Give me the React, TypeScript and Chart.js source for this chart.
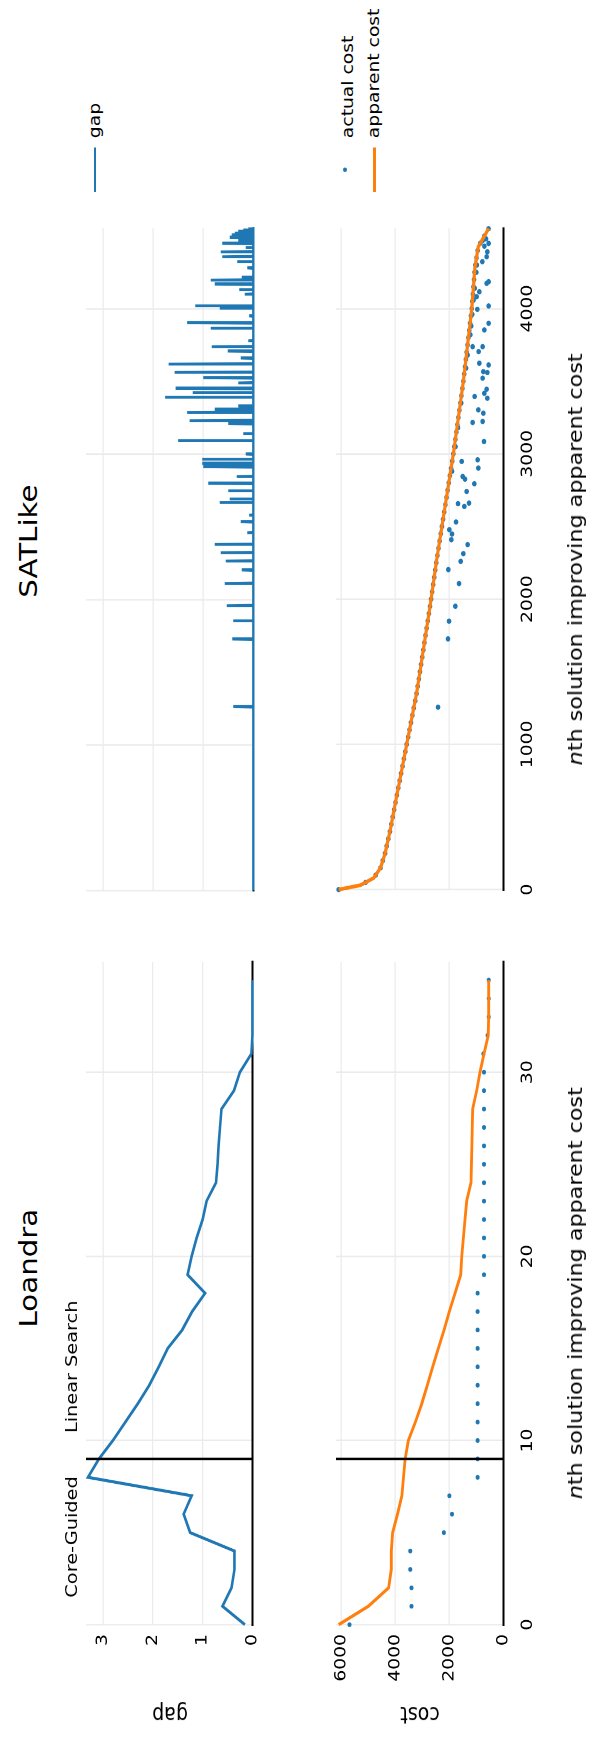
import React, { useEffect, useRef } from "react";
import { Chart, registerables } from "chart.js";

Chart.register(...registerables);

const FONT = "'DejaVu Sans', sans-serif";
const BLUE = "#1f77b4";
const ORANGE = "#ff7f0e";
const GRID = "#ebebeb";
const STRETCH = 1756 / 1500;

// ---------------- data ----------------
const loandraSolution = [0, 1, 2, 3, 4, 5, 6, 7, 8, 9, 10, 11, 12, 13, 14, 15, 16, 17, 18, 19, 20, 21, 22, 23, 24, 25, 26, 27, 28, 29, 30, 31, 32, 33, 34, 35];
const loandraGap = [0.15, 0.6, 0.42, 0.36, 0.36, 1.25, 1.38, 1.22, 3.3, 3.08, 2.8, 2.55, 2.3, 2.07, 1.88, 1.7, 1.41, 1.21, 0.95, 1.3, 1.22, 1.12, 1.0, 0.92, 0.73, 0.7, 0.68, 0.65, 0.62, 0.37, 0.25, 0.02, 0.0, 0.0, 0.0, 0.0];
const loandraApparentCost = [6100, 5000, 4250, 4150, 4150, 4100, 3920, 3760, 3700, 3640, 3519, 3259, 3022, 2815, 2615, 2407, 2197, 2000, 1789, 1579, 1540, 1480, 1420, 1357, 1197, 1180, 1165, 1150, 1134, 986, 863, 715, 560, 541, 541, 541];
const loandraActualCost = [5700, 3400, 3400, 3450, 3450, 2200, 1900, 2000, 950, 950, 950, 950, 950, 950, 950, 950, 950, 950, 950, 715, 715, 715, 715, 715, 715, 715, 715, 715, 715, 715, 715, 740, 580, 541, 541, 541];
const loandraSwitchAt = 9;

const satGapSpikes: [number, number][] = [
  [1263, 0.4], [1728, 0.42], [1852, 0.4], [1958, 0.53], [2111, 0.57], [2203, 0.23], [2265, 0.55], [2322, 0.65],
  [2379, 0.77], [2460, 0.12], [2535, 0.25], [2580, 0.08], [2666, 0.67], [2690, 0.47], [2746, 0.5], [2799, 0.9],
  [2845, 0.33], [2913, 1.0], [2936, 1.02], [2964, 1.02], [3000, 0.15], [3092, 1.5], [3140, 0.2], [3210, 0.5],
  [3230, 1.27], [3287, 1.32], [3307, 0.77], [3330, 0.3], [3390, 1.76], [3422, 1.21], [3452, 1.55], [3490, 0.3],
  [3525, 1.0], [3562, 1.57], [3619, 1.69], [3660, 0.25], [3708, 0.51], [3738, 0.83], [3780, 0.1], [3864, 0.85],
  [3903, 1.32], [3950, 0.08], [4002, 0.67], [4018, 1.16], [4100, 0.17], [4130, 0.28], [4169, 0.77], [4197, 0.85],
  [4215, 0.23], [4280, 0.12], [4323, 0.32], [4357, 0.62], [4391, 0.65], [4420, 0.15], [4449, 0.62], [4470, 0.3],
  [4490, 0.47], [4506, 0.43], [4520, 0.37], [4530, 0.3], [4540, 0.2], [4548, 0.1],
];
const satLastSolution = 4553;

const satApparentCost: [number, number][] = [
  [0, 6100], [30, 5300], [80, 4800], [150, 4550], [250, 4380], [400, 4200], [621, 3974], [1355, 3208],
  [1951, 2715], [2272, 2467], [2998, 1852], [3497, 1482], [3997, 1170], [4288, 1048], [4426, 926],
  [4500, 700], [4552, 541],
];

const satActualCostOnCurve: [number, number][] = [
  [0, 6100], [50, 5100], [100, 4729], [150, 4550], [200, 4465], [250, 4380], [300, 4320], [350, 4260],
  [400, 4200], [450, 4149], [500, 4098], [550, 4046], [600, 3995], [650, 3944], [700, 3892], [750, 3839],
  [800, 3787], [850, 3735], [900, 3683], [950, 3631], [1000, 3579], [1050, 3526], [1100, 3474], [1150, 3422],
  [1200, 3370], [1250, 3318], [1300, 3265], [1350, 3213], [1400, 3171], [1450, 3129], [1500, 3088], [1550, 3047],
  [1600, 3005], [1650, 2964], [1700, 2923], [1750, 2881], [1800, 2840], [1850, 2799], [1900, 2757], [1950, 2716],
  [2000, 2677], [2050, 2638], [2100, 2600], [2150, 2561], [2200, 2523], [2250, 2484], [2300, 2443], [2350, 2401],
  [2400, 2359], [2450, 2316], [2500, 2274], [2550, 2232], [2600, 2189], [2650, 2147], [2700, 2105], [2750, 2063],
  [2800, 2020], [2850, 1978], [2900, 1935], [2950, 1893], [3000, 1851], [3050, 1814], [3100, 1776], [3150, 1739],
  [3200, 1702], [3250, 1665], [3300, 1628], [3350, 1591], [3400, 1554], [3450, 1517], [3500, 1480], [3550, 1449],
  [3600, 1418], [3650, 1386], [3700, 1355], [3750, 1324], [3800, 1293], [3850, 1262], [3900, 1230], [3950, 1199],
  [4000, 1169], [4050, 1148], [4100, 1127], [4150, 1106], [4200, 1085], [4250, 1064], [4300, 1037], [4350, 993],
  [4400, 949], [4450, 853], [4500, 700], [4550, 547],
];

const satActualCostOutliers: [number, number][] = [
  [4449, 542], [4391, 592], [4357, 616], [4323, 777], [4185, 542], [4174, 616], [4116, 888], [4082, 987],
  [3995, 962], [4018, 542], [3853, 703], [3899, 542], [3738, 1135], [3704, 913], [3738, 764], [3624, 888],
  [3612, 542], [3566, 740], [3560, 592], [3521, 764], [3417, 703], [3445, 616], [3383, 592], [3395, 1061],
  [3303, 925], [3280, 740], [3216, 1135], [3223, 764], [3085, 715], [2948, 1542], [2959, 950], [2902, 925],
  [2844, 1505], [2826, 1419], [2794, 1073], [2741, 1357], [2657, 1678], [2638, 1444], [2661, 1271], [2531, 1752],
  [2478, 1999], [2448, 1900], [2409, 1925], [2375, 1320], [2313, 1481], [2260, 1579], [2203, 2036], [2107, 1641],
  [1951, 1777], [1848, 2011], [1726, 2049], [1256, 2419],
  [4480, 640], [4470, 760], [4430, 700], [4300, 980], [4250, 1000], [4140, 1060], [4060, 1100], [3960, 1150],
  [3880, 1190], [3820, 1220], [3680, 1320], [3590, 1380], [3350, 1560], [3180, 1680], [3050, 1770], [2880, 1900],
];

const loandraXTicks = [0, 10, 20, 30];
const satXTicks = [0, 1000, 2000, 3000, 4000];
const gapTicks = [0, 1, 2, 3];
const costTicks = [0, 2000, 4000, 6000];
const GAP_MAX = 3.34;
const COST_MAX = 6200;
const LOANDRA_X_MAX = 36;

// ---------------- helpers ----------------
type Pad = { left: number; right: number; top: number; bottom: number };

function buildOptions(o: {
  xMax: number; xTicks: number[]; showXLabels: boolean;
  yMax: number; yTicks: number[]; showYLabels: boolean;
  yAxisWidth: number; xAxisHeight: number; pad: Pad;
}): any {
  return {
    responsive: false,
    animation: false,
    devicePixelRatio: 2,
    events: [],
    layout: { padding: o.pad },
    plugins: { legend: { display: false }, tooltip: { enabled: false } },
    scales: {
      x: {
        type: "linear",
        min: 0,
        max: o.xMax,
        afterBuildTicks: (s: any) => { s.ticks = o.xTicks.map((v) => ({ value: v })); },
        afterFit: (s: any) => { s.height = o.xAxisHeight; },
        grid: { color: GRID, lineWidth: 1.3, drawTicks: false },
        border: { display: true, color: "#000", width: 2 },
        ticks: {
          display: o.showXLabels, padding: 15, maxRotation: 0, autoSkip: false,
          color: "#000", font: { family: FONT, size: 16 },
          callback: (v: any) => String(v),
        },
      },
      y: {
        type: "linear",
        min: 0,
        max: o.yMax,
        afterBuildTicks: (s: any) => { s.ticks = o.yTicks.map((v) => ({ value: v })); },
        afterFit: (s: any) => { s.width = o.yAxisWidth; },
        grid: { color: GRID, lineWidth: 1.3, drawTicks: false },
        border: { display: false },
        ticks: {
          display: o.showYLabels, padding: 8, autoSkip: false,
          color: "#000", font: { family: FONT, size: 16 },
          callback: (v: any) => String(v),
        },
      },
    },
  };
}

function ChartPanel(props: { left: number; top: number; width: number; height: number; make: () => any }) {
  const ref = useRef<HTMLCanvasElement>(null);
  useEffect(() => {
    const chart = new Chart(ref.current as HTMLCanvasElement, props.make());
    return () => chart.destroy();
  }, []);
  return (
    <canvas
      ref={ref}
      width={props.width}
      height={props.height}
      style={{ position: "absolute", left: props.left, top: props.top, width: props.width, height: props.height }}
    />
  );
}

function Txt(props: { x: number; baseline: number; size: number; anchor?: "start" | "middle" | "end"; children: any; style?: any }) {
  const top = props.baseline - 0.846 * props.size;
  const tr = props.anchor === "middle" ? "translateX(-50%)" : props.anchor === "end" ? "translateX(-100%)" : undefined;
  return (
    <div style={{ position: "absolute", left: props.x, top, fontSize: props.size, lineHeight: 1, whiteSpace: "nowrap", transform: tr, fontFamily: FONT, color: "#000", ...(props.style || {}) }}>
      {props.children}
    </div>
  );
}

function VTxt(props: { cx: number; cy: number; size: number; children: any }) {
  return (
    <div style={{ position: "absolute", left: props.cx, top: props.cy, fontSize: props.size, lineHeight: 1, whiteSpace: "nowrap", fontFamily: FONT, color: "#000", transform: "translate(-50%, -50%) rotate(-90deg)" }}>
      {props.children}
    </div>
  );
}

const dividerLine = (yMax: number) => ({
  data: [{ x: loandraSwitchAt, y: 0 }, { x: loandraSwitchAt, y: yMax }],
  showLine: true, borderColor: "#000", borderWidth: 2, pointRadius: 0, order: 0, clip: false,
});

// Geometry (unstretched frame, 1500 x 594)
const L_LEFT = 112.2, L_RIGHT = 678.5;
const S_LEFT = 739.4, S_RIGHT = 1305;
const GAP_TOP = 86, GAP_BOTTOM = 253.3;
const COST_TOP = 336, COST_BOTTOM = 503.3;

export default function App() {
  const lgCanvas = { left: 0, top: 50, width: 710, height: 220 };
  const lcCanvas = { left: 0, top: 300, width: 710, height: 294 };
  const sgCanvas = { left: 720, top: 50, width: 610, height: 220 };
  const scCanvas = { left: 720, top: 300, width: 610, height: 294 };

  const makeLG = () => ({
    type: "scatter",
    data: {
      datasets: [
        dividerLine(GAP_MAX),
        {
          data: loandraSolution.map((x, i) => ({ x, y: loandraGap[i] })),
          showLine: true, borderColor: BLUE, borderWidth: 2.6, pointRadius: 0, order: 1, clip: 4,
        },
      ],
    },
    options: buildOptions({
      xMax: LOANDRA_X_MAX, xTicks: loandraXTicks, showXLabels: false,
      yMax: GAP_MAX, yTicks: gapTicks, showYLabels: true,
      yAxisWidth: L_LEFT - lgCanvas.left, xAxisHeight: lgCanvas.top + lgCanvas.height - GAP_BOTTOM,
      pad: { left: 0, right: lgCanvas.left + lgCanvas.width - L_RIGHT, top: GAP_TOP - lgCanvas.top, bottom: 0 },
    }),
  });

  const makeLC = () => ({
    type: "scatter",
    data: {
      datasets: [
        dividerLine(COST_MAX),
        {
          data: loandraSolution.map((x, i) => ({ x, y: loandraApparentCost[i] })),
          showLine: true, borderColor: ORANGE, borderWidth: 2.8, pointRadius: 0, order: 1, clip: 4,
        },
        {
          data: loandraSolution.map((x, i) => ({ x, y: loandraActualCost[i] })),
          showLine: false, pointRadius: 2, backgroundColor: BLUE, borderWidth: 0, order: 2, clip: 4,
        },
      ],
    },
    options: buildOptions({
      xMax: LOANDRA_X_MAX, xTicks: loandraXTicks, showXLabels: true,
      yMax: COST_MAX, yTicks: costTicks, showYLabels: true,
      yAxisWidth: L_LEFT - lcCanvas.left, xAxisHeight: lcCanvas.top + lcCanvas.height - COST_BOTTOM,
      pad: { left: 0, right: lcCanvas.left + lcCanvas.width - L_RIGHT, top: COST_TOP - lcCanvas.top, bottom: 0 },
    }),
  });

  const satGapLine = (() => {
    const pts: { x: number; y: number }[] = [{ x: 0, y: 0 }];
    for (const [x, g] of satGapSpikes) {
      pts.push({ x: x - 3, y: 0 }, { x, y: g }, { x: x + 3, y: 0 });
    }
    pts.push({ x: satLastSolution, y: 0 });
    return pts;
  })();

  const makeSG = () => ({
    type: "scatter",
    data: {
      datasets: [
        { data: satGapLine, showLine: true, borderColor: BLUE, borderWidth: 2.4, pointRadius: 0, order: 1, clip: 4 },
      ],
    },
    options: buildOptions({
      xMax: satLastSolution, xTicks: satXTicks, showXLabels: false,
      yMax: GAP_MAX, yTicks: gapTicks, showYLabels: false,
      yAxisWidth: 0, xAxisHeight: sgCanvas.top + sgCanvas.height - GAP_BOTTOM,
      pad: { left: S_LEFT - sgCanvas.left, right: sgCanvas.left + sgCanvas.width - S_RIGHT, top: GAP_TOP - sgCanvas.top, bottom: 0 },
    }),
  });

  const makeSC = () => ({
    type: "scatter",
    data: {
      datasets: [
        {
          data: satApparentCost.map(([x, y]) => ({ x, y })),
          showLine: true, borderColor: ORANGE, borderWidth: 3.2, pointRadius: 0, order: 1, clip: 4,
        },
        {
          data: satActualCostOnCurve.map(([x, y]) => ({ x, y })).concat(satActualCostOutliers.map(([x, y]) => ({ x, y }))),
          showLine: false, pointRadius: 2.3, backgroundColor: BLUE, borderWidth: 0, order: 2, clip: 4,
        },
      ],
    },
    options: buildOptions({
      xMax: satLastSolution, xTicks: satXTicks, showXLabels: true,
      yMax: COST_MAX, yTicks: costTicks, showYLabels: false,
      yAxisWidth: 0, xAxisHeight: scCanvas.top + scCanvas.height - COST_BOTTOM,
      pad: { left: S_LEFT - scCanvas.left, right: scCanvas.left + scCanvas.width - S_RIGHT, top: COST_TOP - scCanvas.top, bottom: 0 },
    }),
  });

  const xLabel = (
    <>
      <i>n</i>th solution improving apparent cost
    </>
  );

  return (
    <div
      style={{
        position: "absolute", left: 0, top: 0, width: 1500, height: 594, background: "#fff",
        transformOrigin: "0 0", transform: `translateY(1756px) rotate(-90deg) scaleX(${STRETCH})`,
        fontFamily: FONT,
      }}
    >
      <ChartPanel {...lgCanvas} make={makeLG} />
      <ChartPanel {...lcCanvas} make={makeLC} />
      <ChartPanel {...sgCanvas} make={makeSG} />
      <ChartPanel {...scCanvas} make={makeSC} />

      <Txt x={416.8} baseline={37} size={25} anchor="middle">Loandra</Txt>
      <Txt x={1037.8} baseline={37} size={25} anchor="middle">SATLike</Txt>

      <Txt x={(L_LEFT + L_RIGHT) / 2} baseline={582.5} size={19} anchor="middle">{xLabel}</Txt>
      <Txt x={(S_LEFT + S_RIGHT) / 2} baseline={582.5} size={19} anchor="middle">{xLabel}</Txt>

      <VTxt cx={35} cy={(GAP_TOP + GAP_BOTTOM) / 2} size={19}>gap</VTxt>
      <VTxt cx={35} cy={(COST_TOP + COST_BOTTOM) / 2} size={19}>cost</VTxt>

      <Txt x={239} baseline={78} size={16.5} anchor="end">Core-Guided</Txt>
      <Txt x={275.9} baseline={78} size={16.5}>Linear Search</Txt>

      {/* legends */}
      <div style={{ position: "absolute", left: 1336, top: 95 - 1.3, width: 37.5, height: 2.6, background: BLUE }} />
      <Txt x={1382} baseline={101} size={16}>gap</Txt>
      <div style={{ position: "absolute", left: 1354.8 - 2, top: 345 - 2, width: 4, height: 4, borderRadius: "50%", background: BLUE }} />
      <Txt x={1382} baseline={354} size={16}>actual cost</Txt>
      <div style={{ position: "absolute", left: 1336, top: 374.3 - 1.4, width: 37.5, height: 2.8, background: ORANGE }} />
      <Txt x={1382} baseline={379.5} size={16}>apparent cost</Txt>
    </div>
  );
}
